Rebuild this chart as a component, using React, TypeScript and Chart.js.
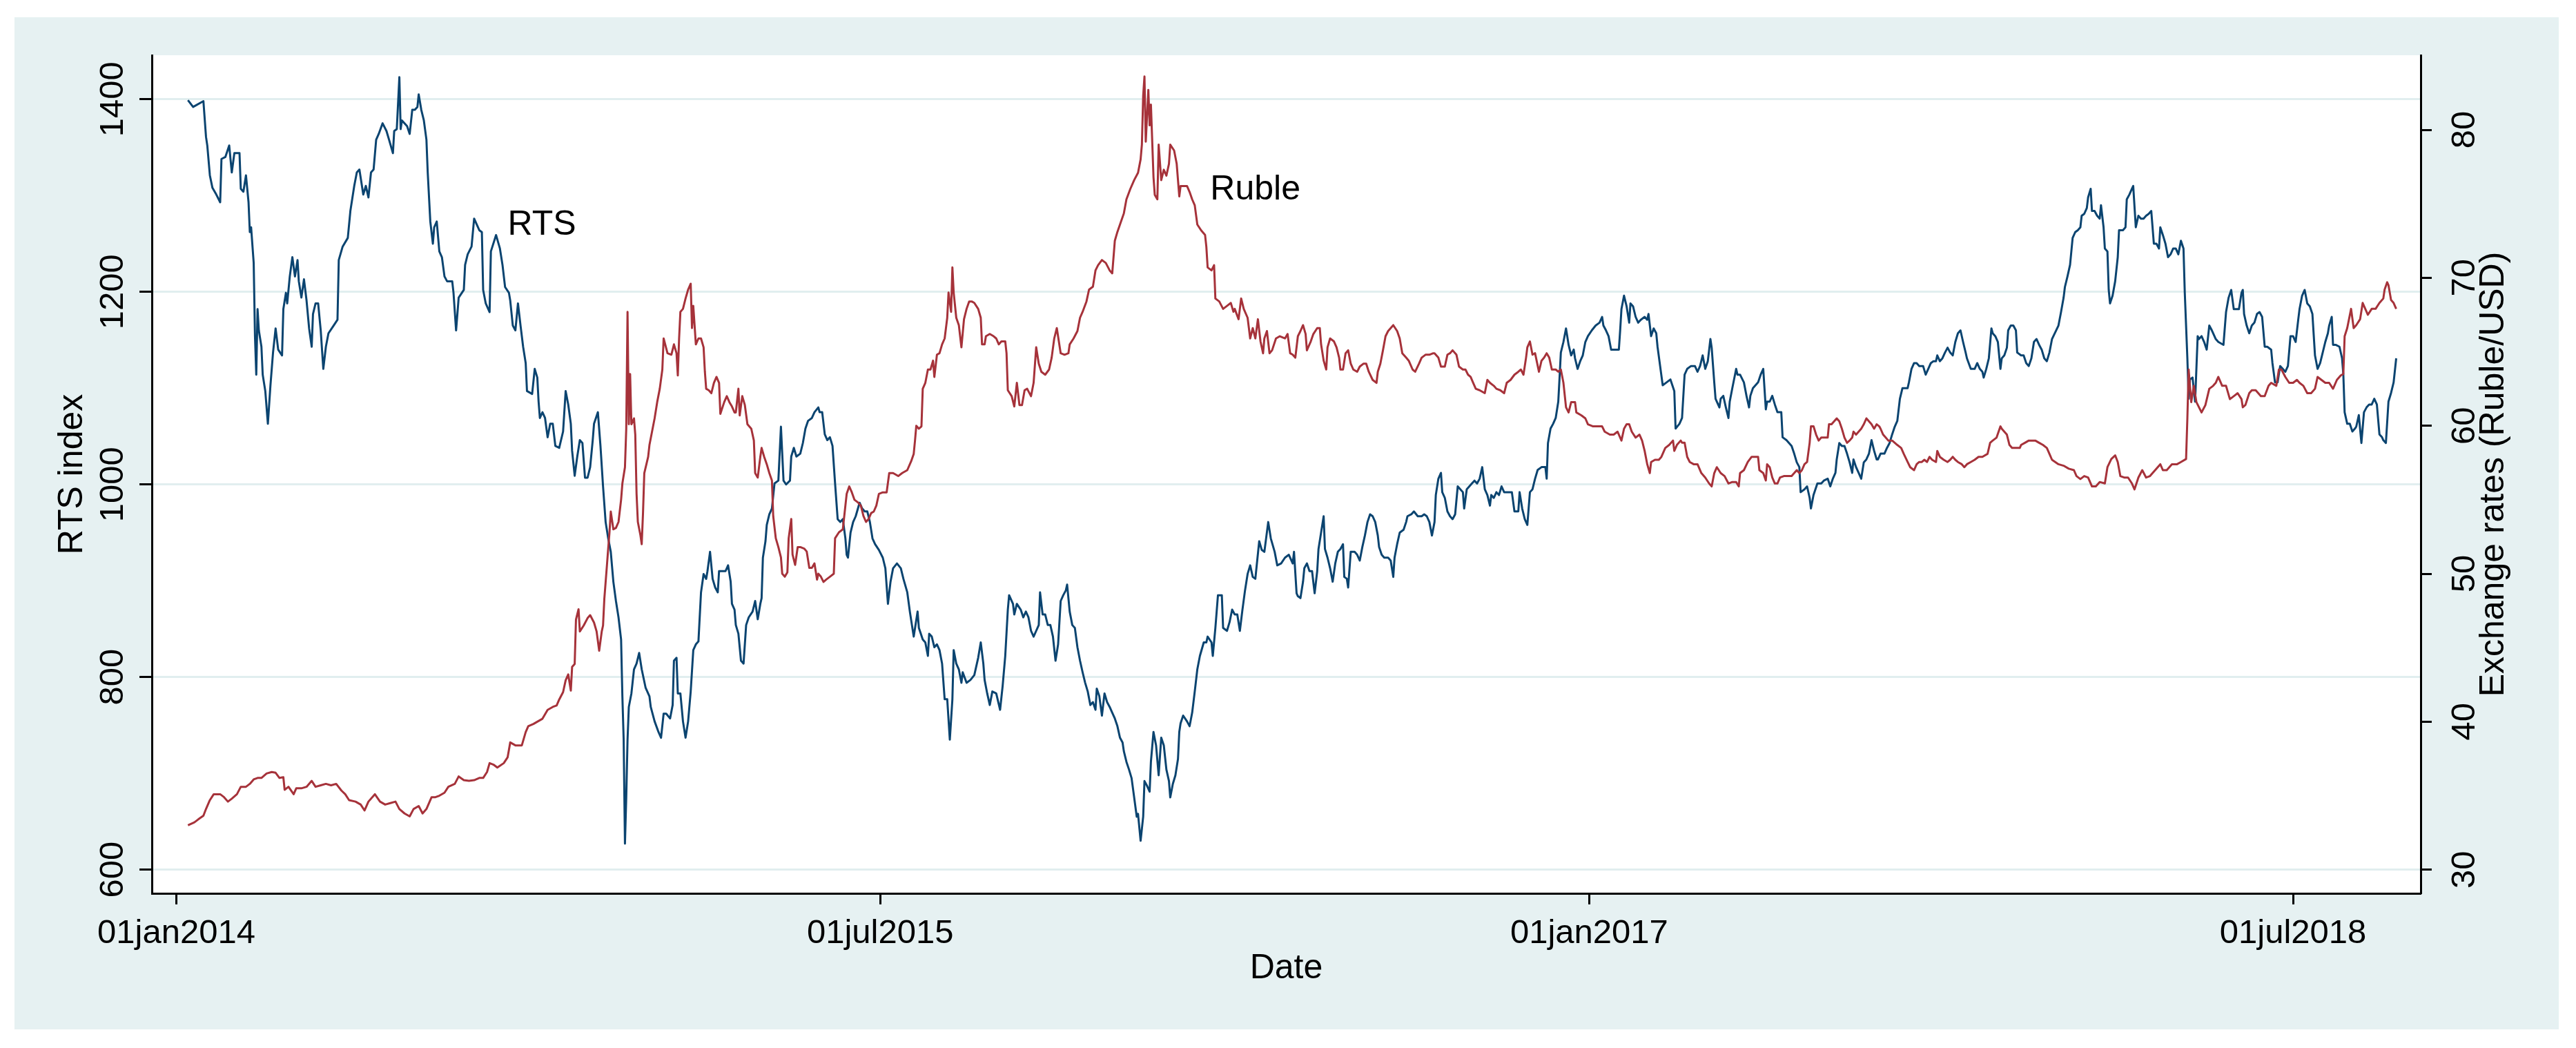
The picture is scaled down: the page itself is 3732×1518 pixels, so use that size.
import { useEffect, useRef } from 'react';
import Chart from 'chart.js/auto';

// Day numbers count from 01jan2014 (day 0).
const tickDays = [0, 546, 1096, 1642];
const tickLabels = ['01jan2014', '01jul2015', '01jan2017', '01jul2018'];
const rtsTicks = [600, 800, 1000, 1200, 1400];
const rubleTicks = [30, 40, 50, 60, 70, 80];

const xTitle = 'Date';
const rtsTitle = 'RTS index';
const rubleTitle = 'Exchange rates (Ruble/USD)';

// text labels placed on the chart, in [day, RTS index] units
const seriesNames = ['RTS', 'Ruble'];
const seriesNameDay = [257, 802];
const seriesNameLevel = [1259, 1296];

// [day, RTS index]
const rtsSeries: [number, number][] = [
	[9, 1399], [13, 1392], [21, 1398], [23, 1361], [24, 1352], [26, 1321], [28, 1308], [31, 1301], [34, 1293], [35, 1338],
	[38, 1340], [41, 1352], [43, 1324], [45, 1344], [49, 1344], [50, 1307], [52, 1304], [54, 1321], [56, 1293], [57, 1262],
	[58, 1267], [60, 1230], [61, 1154], [62, 1114], [63, 1182], [64, 1160], [66, 1143], [67, 1114], [69, 1097], [71, 1063],
	[73, 1103], [75, 1137], [77, 1162], [79, 1140], [82, 1134], [83, 1182], [85, 1199], [86, 1188], [88, 1216], [90, 1236],
	[92, 1216], [94, 1233], [95, 1211], [97, 1194], [99, 1213], [101, 1191], [103, 1162], [105, 1143], [106, 1177], [108, 1188],
	[110, 1188], [112, 1160], [114, 1120], [116, 1143], [118, 1157], [122, 1165], [125, 1171], [126, 1233], [129, 1247], [133, 1256],
	[135, 1284], [138, 1310], [140, 1324], [142, 1327], [145, 1301], [147, 1310], [149, 1298], [151, 1324], [153, 1327], [155, 1358],
	[157, 1364], [160, 1375], [163, 1367], [165, 1358], [168, 1344], [169, 1367], [171, 1369], [173, 1423], [174, 1369], [175, 1378],
	[179, 1372], [181, 1364], [183, 1389], [185, 1389], [187, 1392], [188, 1405], [190, 1389], [192, 1378], [194, 1358], [195, 1324],
	[197, 1273], [199, 1250], [200, 1267], [202, 1273], [204, 1242], [206, 1236], [208, 1216], [210, 1211], [214, 1211], [215, 1199],
	[217, 1160], [219, 1194], [223, 1202], [224, 1228], [226, 1239], [229, 1247], [231, 1276], [235, 1264], [237, 1262], [238, 1202],
	[240, 1188], [243, 1179], [244, 1242], [248, 1259], [251, 1245], [253, 1228], [255, 1205], [258, 1199], [259, 1191], [261, 1165],
	[263, 1160], [265, 1188], [267, 1165], [269, 1143], [271, 1126], [272, 1097], [276, 1094], [278, 1120],
	[280, 1111], [281, 1086], [282, 1069], [284, 1075], [286, 1069], [288, 1049], [290, 1063], [292, 1063], [294, 1040], [297, 1038],
	[300, 1055], [302, 1097], [304, 1083], [306, 1063], [307, 1035], [309, 1009], [311, 1029], [313, 1046], [315, 1043], [317, 1007],
	[319, 1007], [321, 1018], [323, 1046], [324, 1063], [327, 1075], [329, 1040], [331, 998], [333, 961], [335, 944], [337, 930],
	[339, 899], [341, 879], [343, 862], [345, 839], [346, 780], [347, 735], [348, 627], [349, 675], [350, 735], [351, 769],
	[353, 783], [355, 808], [357, 814], [359, 825], [361, 808], [364, 789], [367, 780], [368, 769], [371, 754], [374, 743],
	[376, 737], [378, 762], [380, 762], [383, 757], [385, 771], [386, 817], [388, 820], [389, 783], [391, 783], [393, 754],
	[395, 737], [397, 754], [399, 785], [401, 828], [403, 834], [405, 837], [407, 888], [409, 907], [411, 902], [412, 910],
	[414, 930], [416, 902], [418, 893], [420, 888], [421, 910], [424, 910], [426, 910], [428, 916], [430, 899], [431, 876],
	[433, 870], [434, 854], [436, 845], [438, 817], [440, 814], [442, 854], [444, 862], [447, 868], [449, 879], [451, 860],
	[453, 876], [454, 882], [455, 924], [457, 941], [458, 958], [460, 969], [462, 975], [464, 1001], [467, 1004], [469, 1060],
	[471, 1004], [473, 1000], [476, 1004], [477, 1029], [479, 1038], [481, 1029], [484, 1032], [486, 1043], [488, 1058], [490, 1066],
	[493, 1069], [495, 1075], [498, 1080], [499, 1075], [501, 1075], [503, 1052], [505, 1046], [507, 1049], [509, 1040], [511, 1001],
	[513, 964], [515, 961], [517, 964], [519, 944], [520, 927], [521, 924], [523, 950], [525, 961], [527, 967], [530, 981],
	[532, 975], [534, 972], [536, 972], [538, 961], [540, 944], [542, 938], [545, 932], [548, 924], [550, 913], [552, 876],
	[554, 899], [556, 913], [559, 918], [562, 913], [564, 902], [567, 888], [569, 868], [572, 842],
	[575, 868], [576, 851], [579, 839], [581, 836], [583, 822], [584, 845], [586, 842], [588, 831], [590, 834], [592, 828],
	[594, 814], [596, 777], [598, 777], [600, 735], [602, 777], [603, 828], [605, 814], [607, 808], [609, 794], [610, 805],
	[613, 794], [616, 797], [619, 802], [622, 820], [624, 836], [626, 814], [627, 797], [629, 783], [631, 771], [633, 785],
	[636, 783], [639, 766], [641, 791], [643, 822], [645, 870], [646, 885], [649, 876], [650, 865], [652, 876], [655, 870],
	[657, 862], [659, 868], [661, 862], [663, 848], [665, 842], [667, 848], [669, 854], [670, 888], [672, 865], [674, 865],
	[676, 854], [678, 854], [680, 842], [682, 817], [684, 834], [686, 879], [688, 885], [690, 890], [691, 896], [693, 868],
	[695, 854], [697, 851], [699, 831], [701, 817], [703, 805], [705, 794], [707, 785], [709, 771], [711, 774], [713, 766],
	[714, 788], [716, 780], [718, 760], [720, 783], [722, 774], [724, 769], [726, 763], [728, 757], [730, 749], [732, 737],
	[734, 732], [735, 723], [737, 712], [739, 704], [741, 695], [743, 675], [745, 655], [746, 658], [748, 630], [750, 655],
	[751, 692], [753, 687], [755, 681], [756, 712], [758, 743], [760, 729], [762, 698], [764, 737], [766, 729], [768, 704],
	[770, 692], [771, 675], [773, 689], [775, 698], [777, 715], [778, 743], [779, 752], [781, 760], [784, 754], [786, 749],
	[788, 763], [790, 785], [792, 808], [794, 822], [797, 836], [799, 836], [800, 842], [803, 836], [804, 822], [806, 851],
	[808, 885], [811, 885], [812, 851], [815, 848], [817, 857], [819, 870], [821, 865], [823, 865], [825, 848], [827, 870],
	[829, 890], [831, 907], [833, 916], [835, 904], [837, 902], [840, 941], [842, 932], [844, 930], [847, 961], [849, 944],
	[852, 930], [854, 916], [857, 918], [860, 924], [863, 927], [866, 918],
	[867, 930], [869, 887], [870, 884], [872, 882], [874, 899], [875, 913], [877, 918], [879, 910], [881, 910], [883, 887],
	[885, 910], [886, 933], [888, 950], [890, 967], [891, 933], [893, 924], [895, 913], [897, 899], [899, 918], [901, 930],
	[903, 933], [905, 938], [906, 904], [908, 902], [909, 893], [911, 930], [912, 930], [914, 930], [916, 927], [918, 921],
	[920, 935], [922, 947], [924, 961], [926, 969], [928, 967], [930, 961], [932, 947], [933, 935], [935, 927], [937, 924],
	[940, 924], [942, 921], [944, 904], [945, 924], [947, 938], [949, 950], [952, 953], [954, 961], [955, 967], [958, 969],
	[960, 972], [963, 967], [966, 967], [968, 969], [970, 967], [972, 961], [974, 947], [976, 961], [977, 989], [979, 1006],
	[981, 1012], [982, 992], [984, 986], [986, 972], [988, 967], [990, 964], [992, 969], [994, 998], [996, 995], [998, 992],
	[999, 975], [1001, 995], [1003, 998], [1005, 1001], [1007, 1004], [1009, 1001], [1011, 1006], [1013, 1018], [1015, 995], [1017, 989],
	[1019, 978], [1020, 989], [1022, 986], [1024, 992], [1026, 989], [1028, 998], [1030, 992], [1033, 992], [1036, 992], [1038, 972],
	[1041, 972], [1042, 992], [1044, 975], [1046, 964], [1048, 958], [1050, 992], [1052, 995], [1054, 1006], [1056, 1015], [1059, 1018],
	[1062, 1018], [1063, 1006], [1064, 1043], [1066, 1058], [1068, 1063], [1070, 1069], [1072, 1086], [1073, 1111], [1074, 1137], [1076, 1148],
	[1078, 1162], [1080, 1145], [1082, 1134], [1084, 1140], [1085, 1131], [1087, 1120], [1089, 1128], [1091, 1134], [1093, 1148], [1095, 1154],
	[1098, 1160], [1101, 1165], [1104, 1168], [1106, 1174], [1107, 1165], [1109, 1160], [1111, 1154], [1113, 1140], [1116, 1140], [1119, 1140],
	[1120, 1160], [1121, 1182], [1123, 1196], [1125, 1185], [1127, 1168], [1128, 1188], [1130, 1185], [1132, 1174], [1134, 1168], [1136, 1171],
	[1139, 1174], [1141, 1171], [1142, 1177], [1144, 1154], [1146, 1162], [1148, 1157], [1149, 1143], [1151, 1123], [1153, 1103], [1156, 1106],
	[1159, 1109],
	[1162, 1097], [1163, 1058], [1166, 1063], [1168, 1069], [1170, 1114], [1172, 1120], [1175, 1123], [1178, 1123], [1180, 1117], [1182, 1123],
	[1184, 1134], [1186, 1120], [1188, 1128], [1190, 1151], [1191, 1142], [1193, 1106], [1194, 1089], [1197, 1080], [1198, 1089], [1200, 1092],
	[1202, 1080], [1204, 1069], [1205, 1086], [1207, 1100], [1210, 1120], [1211, 1114], [1213, 1114], [1216, 1106], [1218, 1092], [1220, 1080],
	[1221, 1092], [1223, 1100], [1225, 1103], [1227, 1106], [1229, 1114], [1231, 1120], [1233, 1078], [1234, 1086], [1236, 1086], [1238, 1092],
	[1240, 1083], [1242, 1075], [1245, 1075], [1246, 1049], [1249, 1046], [1251, 1043], [1253, 1040], [1255, 1032], [1257, 1023], [1259, 1018],
	[1260, 992], [1263, 995], [1265, 998], [1267, 986], [1268, 975], [1270, 989], [1273, 1001], [1276, 1001], [1278, 1004], [1281, 1006],
	[1283, 998], [1285, 1006], [1287, 1012], [1288, 1026], [1290, 1043], [1292, 1040], [1294, 1040], [1296, 1032], [1298, 1023], [1300, 1012],
	[1301, 1026], [1303, 1018], [1305, 1012], [1307, 1006], [1309, 1023], [1311, 1026], [1313, 1032], [1315, 1046], [1317, 1035], [1319, 1026],
	[1320, 1026], [1322, 1032], [1325, 1032], [1327, 1038], [1329, 1043], [1331, 1052], [1333, 1060], [1335, 1066], [1337, 1089], [1339, 1100],
	[1341, 1100], [1343, 1100], [1344, 1106], [1346, 1120], [1348, 1126], [1350, 1126], [1352, 1123], [1355, 1123], [1357, 1114], [1359, 1120],
	[1361, 1126], [1363, 1128], [1365, 1128], [1366, 1134], [1368, 1128], [1370, 1131], [1372, 1137], [1374, 1142], [1376, 1137], [1378, 1134],
	[1380, 1148], [1382, 1157], [1384, 1160], [1386, 1148], [1388, 1137], [1389, 1131], [1392, 1120], [1395, 1120], [1397, 1126], [1399, 1120],
	[1401, 1117], [1402, 1111], [1404, 1120], [1406, 1131], [1408, 1162], [1409, 1157], [1411, 1154], [1413, 1148], [1415, 1120], [1416, 1131],
	[1418, 1134], [1420, 1142], [1421, 1160], [1423, 1165], [1425, 1165], [1427, 1160], [1428, 1137], [1431, 1134], [1433, 1134], [1435, 1126],
	[1437, 1123], [1439, 1131], [1441, 1148], [1443, 1151], [1445, 1145], [1447, 1140], [1449, 1131], [1451, 1128], [1453, 1137], [1455, 1151],
	[1460, 1165], [1462, 1179], [1464, 1194], [1465, 1205], [1467, 1216], [1469, 1228], [1471, 1256], [1473, 1262], [1475, 1264], [1477, 1267],
	[1478, 1279], [1480, 1281], [1482, 1287], [1483, 1298], [1485, 1307], [1486, 1284], [1488, 1284], [1490, 1279], [1492, 1276], [1493, 1290],
	[1495, 1267], [1496, 1245], [1498, 1242], [1499, 1202], [1500, 1188], [1502, 1196], [1504, 1211], [1506, 1236], [1507, 1264], [1510, 1264],
	[1512, 1267], [1513, 1296], [1515, 1301], [1517, 1307], [1518, 1310], [1520, 1267], [1522, 1279], [1524, 1276], [1526, 1276], [1528, 1279],
	[1530, 1281], [1532, 1284], [1534, 1250], [1536, 1250], [1538, 1245], [1539, 1267], [1541, 1259], [1543, 1250], [1545, 1236], [1547, 1239],
	[1549, 1245], [1551, 1245], [1553, 1239], [1555, 1253], [1557, 1245], [1558, 1199], [1560, 1131], [1561, 1089], [1562, 1109], [1564, 1111],
	[1566, 1086], [1568, 1154], [1569, 1151], [1571, 1154], [1573, 1148], [1575, 1140], [1577, 1165], [1579, 1160], [1581, 1154], [1582, 1151],
	[1584, 1148], [1588, 1145], [1590, 1179], [1592, 1194], [1594, 1202], [1596, 1182], [1598, 1182], [1600, 1182], [1602, 1199], [1603, 1202],
	[1604, 1177], [1606, 1165], [1608, 1157], [1610, 1165], [1612, 1168], [1614, 1177], [1616, 1179], [1618, 1174], [1620, 1143], [1622, 1143],
	[1625, 1140], [1626, 1126], [1628, 1106], [1630, 1106], [1632, 1123], [1634, 1120], [1636, 1117], [1638, 1123], [1640, 1154], [1642, 1154],
	[1644, 1148], [1646, 1171], [1647, 1182], [1649, 1196], [1651, 1202], [1653, 1188], [1655, 1185], [1657, 1177], [1659, 1134], [1661, 1120],
	[1663, 1126], [1665, 1137], [1667, 1148], [1669, 1157], [1670, 1165], [1672, 1174], [1673, 1145], [1675, 1145], [1678, 1143], [1680, 1131],
	[1681, 1114], [1682, 1075], [1684, 1063], [1686, 1063], [1688, 1055], [1690, 1058], [1691, 1060], [1693, 1072], [1695, 1043], [1697, 1075],
	[1699, 1080], [1701, 1083], [1703, 1083], [1705, 1089], [1707, 1083], [1709, 1052], [1711, 1049], [1712, 1046], [1714, 1043], [1716, 1086],
	[1718, 1095], [1720, 1106], [1722, 1131],
];

// [day, rubles per USD]
const rubleSeries: [number, number][] = [
	[9, 33.0], [14, 33.2], [17, 33.4], [21, 33.65], [23, 34.1], [26, 34.7], [29, 35.1], [34, 35.1], [37, 34.9], [40, 34.6],
	[43, 34.8], [47, 35.1], [50, 35.6], [54, 35.6], [57, 35.8], [60, 36.1], [63, 36.2], [66, 36.2], [70, 36.5], [74, 36.6],
	[77, 36.55], [80, 36.2], [83, 36.25], [84, 35.4], [87, 35.6], [91, 35.1], [93, 35.5], [97, 35.5], [101, 35.6], [105, 36.0],
	[108, 35.6], [112, 35.7], [116, 35.8], [120, 35.7], [124, 35.8], [128, 35.35], [131, 35.1], [134, 34.7], [139, 34.6], [143, 34.4],
	[146, 34.0], [149, 34.6], [154, 35.1], [158, 34.6], [162, 34.4], [166, 34.5], [170, 34.6], [173, 34.1], [177, 33.8], [181, 33.6],
	[184, 34.1], [188, 34.3], [191, 33.8], [194, 34.1], [198, 34.9], [201, 34.9], [204, 35.0], [208, 35.2], [211, 35.6], [216, 35.8],
	[219, 36.3], [223, 36.05], [227, 36.0], [231, 36.05], [235, 36.2], [238, 36.2], [241, 36.6], [243, 37.2], [246, 37.1], [249, 36.9],
	[254, 37.2], [257, 37.6], [259, 38.6], [263, 38.4], [268, 38.4], [271, 39.3], [273, 39.7], [277, 39.85],
	[280, 40.0], [284, 40.2], [288, 40.8], [292, 41.0], [295, 41.1], [297, 41.5], [300, 42.0], [302, 42.8], [304, 43.2], [306, 42.1],
	[307, 43.7], [309, 43.9], [310, 46.9], [312, 47.6], [313, 46.1], [316, 46.5], [319, 47.0], [321, 47.2], [324, 46.7], [326, 46.1],
	[328, 44.8], [330, 46.1], [331, 46.5], [332, 48.3], [334, 50.55], [335, 51.7], [336, 52.8], [337, 54.2], [339, 53.0], [341, 53.1],
	[343, 53.5], [345, 55.0], [346, 56.1], [348, 57.2], [349, 59.8], [350, 67.7], [351, 60.1], [352, 63.5], [353, 60.1], [355, 60.5],
	[356, 59.4], [357, 55.4], [358, 53.5], [360, 52.6], [361, 52.0], [362, 54.1], [363, 56.8], [366, 57.9], [367, 58.7], [369, 59.6],
	[371, 60.5], [373, 61.6], [375, 62.5], [377, 63.8], [378, 65.9], [381, 64.9], [384, 64.8], [386, 65.5], [388, 64.9], [389, 63.4],
	[390, 65.9], [391, 67.7], [393, 67.9], [395, 68.6], [397, 69.2], [399, 69.6], [400, 66.6], [401, 68.1], [403, 65.5], [405, 65.9],
	[407, 65.9], [409, 65.3], [410, 63.65], [411, 62.5], [413, 62.4], [415, 62.2], [417, 62.9], [419, 63.3], [421, 62.9], [422, 60.8],
	[425, 61.6], [427, 62.0], [429, 61.6], [431, 61.3], [433, 60.9], [434, 60.9], [436, 62.5], [437, 60.7], [439, 62.0], [441, 61.4],
	[443, 60.1], [446, 59.8], [448, 59.0], [449, 56.8], [451, 56.5], [453, 57.9], [454, 58.5], [456, 57.9], [458, 57.4], [460, 56.8],
	[462, 56.3], [463, 53.9], [465, 52.4], [467, 51.8], [469, 51.1], [470, 50.0], [472, 49.8], [474, 50.1], [475, 52.4], [477, 53.7],
	[478, 51.3], [480, 50.6], [482, 51.8], [484, 51.8], [487, 51.7], [489, 51.5], [491, 50.4], [493, 50.4], [495, 50.7], [497, 49.6],
	[498, 50.0], [500, 49.8], [502, 49.45], [504, 49.6], [507, 49.8], [510, 50.0], [511, 52.4], [514, 52.8], [517, 53.0], [519, 54.6],
	[520, 55.4], [522, 55.9], [524, 55.5], [526, 55.0], [529, 54.8], [531, 54.6], [533, 53.9], [535, 53.5], [537, 53.7], [539, 54.1],
	[541, 54.2], [543, 54.6], [545, 55.4], [548, 55.5], [551, 55.5], [553, 56.8], [556, 56.8], [560, 56.6], [563, 56.8], [567, 57.0],
	[570, 57.6], [572, 58.1],
	[573, 59.0], [574, 60.0], [576, 59.8], [578, 59.96], [579, 62.5], [581, 62.9], [583, 63.8], [585, 63.8], [587, 64.4], [588, 63.3],
	[590, 64.8], [592, 64.9], [594, 65.5], [596, 65.9], [598, 67.3], [599, 69.0], [601, 67.7], [602, 70.7], [603, 69.0], [605, 67.3],
	[607, 66.8], [609, 65.3], [611, 67.2], [613, 67.9], [615, 68.4], [617, 68.4], [619, 68.3], [622, 67.9], [624, 67.3], [625, 65.5],
	[627, 65.5], [628, 66.05], [631, 66.2], [634, 66.05], [636, 65.9], [638, 65.5], [640, 65.7], [643, 65.7], [644, 64.9], [645, 62.4],
	[648, 62.0], [650, 61.3], [652, 62.9], [654, 61.4], [656, 61.4], [658, 62.4], [660, 62.5], [663, 62.0], [665, 62.9], [667, 65.3],
	[669, 64.2], [671, 63.65], [674, 63.45], [677, 63.8], [679, 64.6], [681, 65.9], [683, 66.6], [686, 64.9], [689, 64.8], [692, 64.9],
	[693, 65.5], [696, 65.9], [699, 66.4], [701, 67.3], [703, 67.7], [706, 68.4], [708, 69.2], [711, 69.4], [713, 70.5], [715, 70.85],
	[718, 71.2], [721, 71.0], [724, 70.5], [726, 70.3], [728, 72.5], [730, 73.1], [732, 73.6], [735, 74.35], [737, 75.3], [740, 76.0],
	[743, 76.6], [746, 77.1], [748, 78.0], [749, 79.0], [750, 82.3], [751, 83.6], [752, 79.2], [754, 82.7], [755, 80.3], [756, 81.7],
	[758, 76.8], [759, 75.6], [761, 75.3], [762, 79.0], [764, 76.6], [766, 77.3], [768, 76.9], [770, 77.7], [771, 79.0], [774, 78.6],
	[776, 77.7], [778, 75.5], [779, 76.2], [781, 76.2], [784, 76.2], [786, 75.8], [788, 75.3], [790, 74.9], [792, 73.6], [795, 73.2],
	[798, 72.9], [799, 72.1], [800, 70.7], [803, 70.5], [805, 70.85], [806, 68.6], [809, 68.4], [812, 67.9], [815, 68.1], [818, 68.3],
	[820, 67.7], [821, 67.9], [824, 67.2], [826, 68.6], [828, 67.9], [831, 67.3], [833, 65.9], [835, 66.6], [837, 65.9], [839, 67.2],
	[841, 65.7], [843, 64.9], [844, 65.9], [846, 66.4], [848, 64.9], [850, 65.1], [853, 65.9], [856, 66.05], [860, 65.9], [862, 66.2],
	[864, 64.9], [866, 64.8],
	[868, 64.6], [870, 66.05], [872, 66.4], [874, 66.8], [876, 66.2], [877, 65.1], [880, 65.7], [882, 66.2], [885, 66.6], [887, 66.6],
	[888, 65.5], [890, 64.4], [892, 63.8], [893, 65.3], [895, 65.9], [898, 65.7], [900, 65.3], [902, 64.6], [903, 63.8], [905, 63.8],
	[907, 64.9], [909, 65.1], [911, 64.2], [913, 63.8], [916, 63.65], [918, 64.0], [921, 64.2], [923, 64.2], [925, 63.65], [928, 63.1],
	[931, 62.9], [932, 63.65], [934, 64.2], [936, 65.1], [938, 66.05], [940, 66.4], [942, 66.6], [944, 66.8], [947, 66.4], [949, 65.9],
	[951, 64.9], [954, 64.6], [956, 64.4], [959, 63.8], [961, 63.65], [964, 64.2], [966, 64.6], [969, 64.8], [972, 64.8], [975, 64.9],
	[976, 64.9], [979, 64.6], [981, 64.0], [984, 64.0], [986, 64.8], [988, 64.9], [990, 65.1], [993, 64.8], [995, 64.0], [998, 63.8],
	[1000, 63.8], [1002, 63.45], [1004, 63.3], [1006, 62.9], [1008, 62.5], [1011, 62.4], [1015, 62.2], [1017, 63.1], [1019, 62.9], [1022, 62.7],
	[1024, 62.5], [1027, 62.4], [1030, 62.2], [1032, 62.9], [1035, 63.1], [1038, 63.45], [1041, 63.65], [1043, 63.8], [1045, 63.45], [1047, 64.6],
	[1048, 65.3], [1050, 65.7], [1052, 64.8], [1054, 64.9], [1057, 63.65], [1059, 64.4], [1061, 64.6], [1063, 64.9], [1065, 64.6], [1067, 63.8],
	[1070, 63.8], [1072, 63.65], [1074, 63.8], [1076, 62.9], [1078, 61.25], [1080, 60.9], [1082, 61.6], [1085, 61.6], [1086, 60.9], [1090, 60.7],
	[1093, 60.5], [1095, 60.1], [1099, 59.96], [1103, 59.96], [1106, 59.96], [1108, 59.6], [1112, 59.4], [1115, 59.4], [1118, 59.6], [1121, 59.0],
	[1123, 59.8], [1125, 60.1], [1127, 60.1], [1129, 59.6], [1132, 59.2], [1135, 59.4], [1137, 59.0], [1139, 58.3], [1141, 57.4], [1143, 56.8],
	[1144, 57.55], [1147, 57.7], [1150, 57.7], [1152, 57.9], [1155, 58.5], [1158, 58.7], [1161, 59.0],
	[1162, 58.3], [1164, 58.7], [1167, 59.0], [1168, 58.85], [1170, 58.85], [1172, 57.9], [1174, 57.55], [1177, 57.4], [1180, 57.4], [1183, 56.8],
	[1186, 56.5], [1189, 56.1], [1191, 55.9], [1193, 56.8], [1195, 57.2], [1198, 56.8], [1201, 56.6], [1204, 56.1], [1207, 56.2], [1210, 56.2],
	[1212, 55.9], [1213, 56.8], [1216, 57.0], [1219, 57.55], [1222, 57.9], [1225, 57.9], [1227, 57.9], [1228, 57.0], [1231, 56.8], [1233, 56.3],
	[1234, 57.4], [1236, 57.2], [1238, 56.5], [1240, 56.1], [1242, 56.1], [1244, 56.5], [1247, 56.6], [1250, 56.6], [1253, 56.6], [1255, 56.8],
	[1257, 57.0], [1259, 56.8], [1261, 57.0], [1263, 57.4], [1265, 57.55], [1267, 58.85], [1268, 59.96], [1270, 59.96], [1272, 59.4], [1274, 59.0],
	[1276, 59.2], [1278, 59.2], [1281, 59.2], [1282, 60.1], [1284, 60.1], [1286, 60.3], [1288, 60.5], [1290, 60.3], [1292, 59.8], [1294, 59.2],
	[1296, 58.85], [1298, 59.0], [1300, 59.2], [1301, 59.6], [1303, 59.4], [1305, 59.6], [1307, 59.8], [1309, 60.1], [1311, 60.5], [1313, 60.3],
	[1315, 60.1], [1317, 59.8], [1319, 60.1], [1321, 59.96], [1322, 59.8], [1324, 59.4], [1326, 59.2], [1328, 59.0], [1331, 59.0], [1333, 58.85],
	[1335, 58.7], [1338, 58.5], [1340, 58.1], [1343, 57.55], [1345, 57.2], [1348, 57.0], [1350, 57.4], [1352, 57.55], [1354, 57.55], [1356, 57.7],
	[1358, 57.55], [1360, 57.9], [1362, 57.7], [1365, 57.55], [1366, 58.3], [1368, 57.9], [1371, 57.7], [1374, 57.55], [1376, 57.7], [1378, 57.9],
	[1380, 57.7], [1382, 57.55], [1385, 57.4], [1387, 57.2], [1389, 57.4], [1392, 57.55], [1395, 57.7], [1398, 57.9], [1401, 57.9], [1405, 58.1],
	[1407, 58.85], [1409, 59.0], [1412, 59.2], [1415, 59.96], [1416, 59.8], [1418, 59.6], [1420, 59.4], [1422, 58.7], [1424, 58.5], [1427, 58.5],
	[1430, 58.5], [1431, 58.7], [1434, 58.85], [1437, 59.0], [1439, 59.0], [1442, 59.0], [1445, 58.85], [1448, 58.7], [1451, 58.5], [1453, 58.1],
	[1455, 57.7],
	[1460, 57.4], [1464, 57.3], [1468, 57.1], [1472, 57.0], [1474, 56.6], [1477, 56.4], [1480, 56.6], [1483, 56.5], [1486, 55.9], [1489, 55.9],
	[1492, 56.2], [1496, 56.1], [1498, 57.2], [1501, 57.75], [1504, 58.0], [1506, 57.55], [1508, 56.6], [1511, 56.5], [1514, 56.5], [1517, 56.1],
	[1519, 55.7], [1522, 56.5], [1525, 57.0], [1528, 56.5], [1531, 56.6], [1535, 57.0], [1539, 57.4], [1541, 57.0], [1544, 57.0], [1548, 57.4],
	[1552, 57.4], [1555, 57.55], [1559, 57.75], [1560, 60.5], [1561, 63.8], [1563, 61.6], [1565, 62.7], [1567, 61.6], [1569, 61.25], [1571, 60.9],
	[1574, 61.4], [1577, 62.5], [1580, 62.7], [1582, 62.9], [1584, 63.3], [1587, 62.7], [1590, 62.7], [1593, 61.8], [1596, 62.0], [1599, 62.2],
	[1602, 61.8], [1603, 61.25], [1605, 61.4], [1608, 62.2], [1610, 62.4], [1613, 62.4], [1617, 62.0], [1620, 62.0], [1623, 62.7], [1625, 62.9],
	[1629, 62.7], [1631, 63.8], [1633, 63.8], [1636, 63.3], [1639, 62.9], [1642, 62.9], [1645, 63.1], [1647, 62.9], [1650, 62.7], [1653, 62.2],
	[1656, 62.2], [1659, 62.5], [1661, 63.3], [1664, 63.1], [1667, 62.9], [1670, 62.9], [1673, 62.5], [1676, 63.1], [1679, 63.4], [1681, 63.5],
	[1682, 66.05], [1684, 66.6], [1687, 67.9], [1689, 66.6], [1691, 66.8], [1694, 67.2], [1696, 68.3], [1698, 67.9], [1700, 67.5], [1703, 67.9],
	[1706, 67.9], [1709, 68.3], [1712, 68.6], [1713, 69.2], [1715, 69.7], [1716, 69.5], [1718, 68.5], [1720, 68.3], [1722, 67.9],
];

const FONT = '"Liberation Sans", Arial, Helvetica, sans-serif';
const PAGE_W = 3732;
const PAGE_H = 1518;
const REGION_COLOR = '#e6f1f2';
const GRID_COLOR = '#e1eeef';
const RTS_COLOR = '#0b4470';
const RUBLE_COLOR = '#a6323a';

function verticalText(ctx: CanvasRenderingContext2D, text: string, x: number, y: number) {
	ctx.save();
	ctx.translate(x, y);
	ctx.rotate(-Math.PI / 2);
	ctx.textAlign = 'center';
	ctx.textBaseline = 'alphabetic';
	ctx.fillText(text, 0, 0);
	ctx.restore();
}

const stataLook = {
	id: 'stataLook',
	beforeDraw(chart: Chart) {
		const { ctx, chartArea } = chart;
		ctx.save();
		ctx.fillStyle = '#ffffff';
		ctx.fillRect(0, 0, chart.width, chart.height);
		// graph region
		ctx.fillStyle = REGION_COLOR;
		ctx.fillRect(21, 25, 3686, 1466);
		// plot region
		ctx.fillStyle = '#ffffff';
		ctx.fillRect(chartArea.left, chartArea.top, chartArea.right - chartArea.left, chartArea.bottom - chartArea.top);
		ctx.restore();
	},
	afterDraw(chart: Chart) {
		const { ctx, chartArea, scales } = chart;
		const x = scales.x;
		const y = scales.y;
		const y2 = scales.y2;
		ctx.save();
		ctx.fillStyle = '#000000';
		ctx.font = `49px ${FONT}`;
		ctx.textAlign = 'center';
		ctx.textBaseline = 'alphabetic';
		tickDays.forEach((d, i) => {
			ctx.fillText(tickLabels[i], x.getPixelForValue(d), chartArea.bottom + 72);
		});
		rtsTicks.forEach((v) => verticalText(ctx, String(v), chartArea.left - 42, y.getPixelForValue(v)));
		rubleTicks.forEach((v) => verticalText(ctx, String(v), chartArea.right + 78, y2.getPixelForValue(v)));

		ctx.font = `50px ${FONT}`;
		const midY = (chartArea.top + chartArea.bottom) / 2;
		const midX = (chartArea.left + chartArea.right) / 2;
		ctx.textAlign = 'center';
		ctx.fillText(xTitle, midX, chartArea.bottom + 123);
		verticalText(ctx, rtsTitle, chartArea.left - 101, midY);
		verticalText(ctx, rubleTitle, chartArea.right + 120, midY);

		ctx.textAlign = 'left';
		seriesNames.forEach((name, i) => {
			ctx.fillText(name, x.getPixelForValue(seriesNameDay[i]), y.getPixelForValue(seriesNameLevel[i]));
		});
		ctx.restore();
	},
};

function RtsRubleChart() {
	const canvasRef = useRef<HTMLCanvasElement | null>(null);

	useEffect(() => {
		document.body.style.margin = '0';
		document.body.style.overflow = 'hidden';
		if (!canvasRef.current) return;

		const existing = Chart.getChart(canvasRef.current);
		if (existing) existing.destroy();

		const chart = new Chart(canvasRef.current, {
			type: 'line',
			data: {
				datasets: [
					{
						label: 'RTS',
						data: rtsSeries.map(([d, v]) => ({ x: d, y: v })),
						borderColor: RTS_COLOR,
						borderWidth: 3,
						pointRadius: 0,
						tension: 0,
						fill: false,
						yAxisID: 'y',
						order: 2,
					},
					{
						label: 'Ruble',
						data: rubleSeries.map(([d, v]) => ({ x: d, y: v })),
						borderColor: RUBLE_COLOR,
						borderWidth: 3,
						pointRadius: 0,
						tension: 0,
						fill: false,
						yAxisID: 'y2',
						order: 1,
					},
				],
			},
			options: {
				animation: false,
				responsive: true,
				maintainAspectRatio: false,
				layout: { padding: { top: 80, left: 0, right: 0, bottom: 0 } },
				plugins: {
					legend: { display: false },
					tooltip: { enabled: false },
				},
				elements: { line: { borderJoinStyle: 'round' } },
				scales: {
					x: {
						type: 'linear',
						min: -19,
						max: 1741,
						afterBuildTicks: (s: any) => {
							s.ticks = tickDays.map((v) => ({ value: v }));
						},
						afterFit: (s: any) => {
							s.height = 224;
						},
						ticks: { display: false },
						grid: {
							drawOnChartArea: false,
							drawTicks: true,
							tickLength: 16,
							tickColor: '#000000',
							tickWidth: 3,
						},
						border: { display: true, color: '#000000', width: 3 },
					},
					y: {
						type: 'linear',
						position: 'left',
						min: 575.4,
						max: 1445.7,
						afterBuildTicks: (s: any) => {
							s.ticks = rtsTicks.map((v) => ({ value: v }));
						},
						afterFit: (s: any) => {
							s.width = 220;
						},
						ticks: { display: false },
						grid: {
							color: GRID_COLOR,
							lineWidth: 3,
							drawTicks: true,
							tickLength: 18,
							tickColor: '#000000',
							tickWidth: 3,
						},
						border: { display: true, color: '#000000', width: 3 },
					},
					y2: {
						type: 'linear',
						position: 'right',
						min: 28.4,
						max: 85.04,
						afterBuildTicks: (s: any) => {
							s.ticks = rubleTicks.map((v) => ({ value: v }));
						},
						afterFit: (s: any) => {
							s.width = PAGE_W - 3507;
						},
						ticks: { display: false },
						grid: {
							drawOnChartArea: false,
							drawTicks: true,
							tickLength: 16,
							tickColor: '#000000',
							tickWidth: 3,
						},
						border: { display: true, color: '#000000', width: 3 },
					},
				},
			},
			plugins: [stataLook],
		});

		return () => {
			chart.destroy();
		};
	}, []);

	return (
		<div style={{ width: PAGE_W, height: PAGE_H, position: 'relative' }}>
			<canvas ref={canvasRef}></canvas>
		</div>
	);
}

export default function App() {
	return <RtsRubleChart />;
}
